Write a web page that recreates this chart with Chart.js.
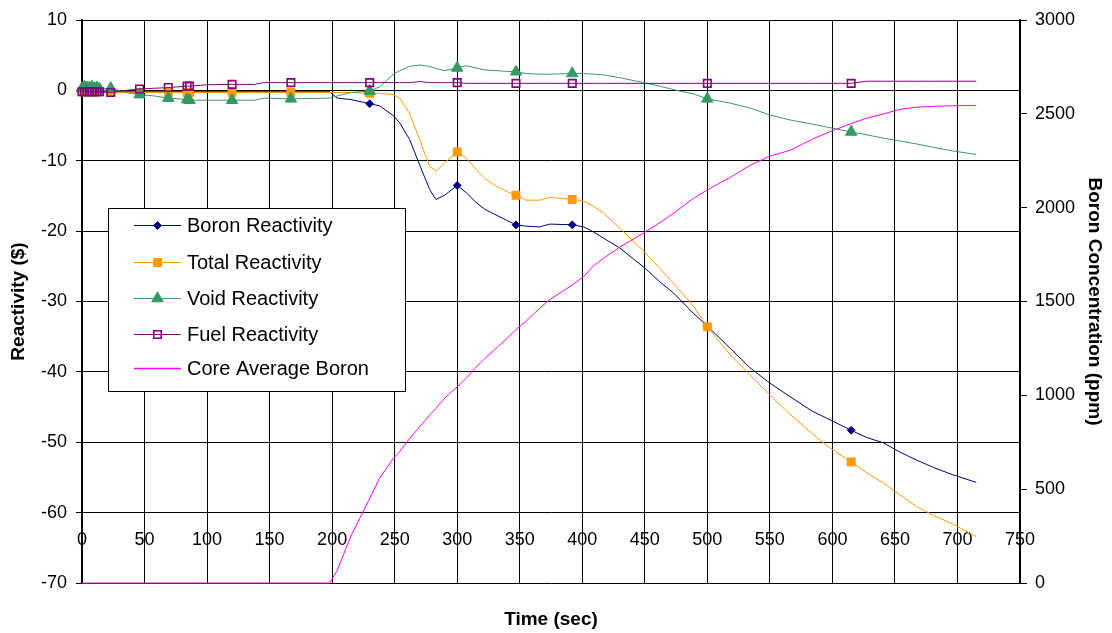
<!DOCTYPE html>
<html>
<head>
<meta charset="utf-8">
<script src="https://cdn.jsdelivr.net/npm/chart.js@4/dist/chart.umd.min.js"></script>
<style>
  html, body { margin: 0; padding: 0; background: #ffffff; }
  #wrap { width: 1112px; height: 633px; position: relative; }
</style>
</head>
<body>
<div id="wrap"><canvas id="chart" width="1112" height="633"></canvas></div>
<script>
// ---------------- DATA ----------------
const time = [0, 2, 4, 6, 8, 10, 12, 14, 23, 35, 46, 58, 69, 84, 86, 100, 120, 138, 145, 167, 198, 204, 215,
  230, 238, 249, 254, 262, 270, 278, 283, 290, 300,
  307, 315, 322, 331, 340, 347, 355, 366, 374, 392,
  401, 409, 417, 430, 449, 462, 473, 489, 500, 518,
  534, 550, 566, 584, 598, 615, 627, 641, 654, 667,
  681, 696, 715];

const boronReactivity = [-0.2, -0.2, -0.2, -0.2, -0.2, -0.2, -0.2, -0.2, -0.2, -0.2, -0.2, -0.2, -0.2, -0.2, -0.2, -0.2, -0.2, -0.2, -0.2, -0.2, -0.2, -1.1, -1.3,
  -1.9, -2.2, -3.6, -4.6, -7.0, -10.6, -14.1, -15.5, -14.9, -13.5,
  -14.5, -15.9, -16.9, -17.7, -18.5, -19.1, -19.3, -19.4, -19.0, -19.1,
  -19.4, -20.1, -21.0, -22.4, -25.1, -27.2, -28.8, -31.7, -33.5, -36.6,
  -39.4, -41.6, -43.5, -45.6, -46.8, -48.3, -49.3, -50.1, -51.4, -52.5,
  -53.6, -54.6, -55.7];

const totalReactivity = [-0.2, -0.2, -0.2, -0.2, -0.2, -0.2, -0.2, -0.2, -0.3, -0.3, -0.3, -0.3, -0.3, -0.3, -0.3, -0.3, -0.3, -0.3, -0.3, -0.3, -0.3, -0.3, -0.3,
  -0.4, -0.4, -0.6, -1.1, -3.3, -7.0, -10.8, -11.5, -10.3, -8.75,
  -9.6, -11.2, -12.5, -13.6, -14.4, -14.9, -15.6, -15.6, -15.2, -15.5,
  -15.7, -16.5, -17.4, -19.6, -22.8, -25.3, -27.4, -30.7, -33.6, -37.5,
  -40.4, -43.3, -46.0, -48.8, -50.8, -52.8, -54.3, -55.8, -57.5, -59.1,
  -60.4, -61.6, -63.4];

const voidReactivity = [0.3, 0.5, 0.4, 0.4, 0.5, 0.3, 0.4, 0.2, 0.3, -0.3, -0.6, -0.8, -1.1, -1.3, -1.4, -1.4, -1.4, -1.4, -1.1, -1.2, -1.1, -0.8, -0.3,
  -0.1, 0.5, 2.3, 2.8, 3.4, 3.6, 3.4, 3.1, 2.8, 3.2,
  3.5, 3.2, 2.9, 2.8, 2.7, 2.65, 2.4, 2.3, 2.3, 2.4,
  2.4, 2.3, 2.2, 1.8, 1.1, 0.6, 0.1, -0.5, -1.2, -1.8,
  -2.5, -3.5, -4.2, -4.8, -5.3, -5.9, -6.3, -6.8, -7.2, -7.6,
  -8.1, -8.6, -9.1];

const fuelReactivity = [-0.2, -0.2, -0.2, -0.2, -0.2, -0.2, -0.2, -0.2, -0.3, 0.0, 0.2, 0.3, 0.4, 0.6, 0.6, 0.8, 0.85, 0.85, 1.1, 1.1, 1.1, 1.1, 1.1,
  1.1, 1.1, 1.1, 1.1, 1.1, 1.25, 1.1, 1.1, 1.1, 1.1,
  1.0, 1.0, 1.0, 1.0, 1.0, 1.0, 1.0, 1.0, 1.0, 1.0,
  1.0, 1.0, 1.0, 1.0, 1.0, 1.0, 1.0, 1.0, 1.0, 1.0,
  1.0, 1.0, 1.0, 1.0, 1.0, 1.0, 1.3, 1.3, 1.3, 1.3,
  1.3, 1.3, 1.3];

const coreAverageBoron = [0, 0, 0, 0, 0, 0, 0, 0, 0, 0, 0, 0, 0, 0, 0, 0, 0, 0, 0, 0, 0, 66, 250,
  450, 560, 664, 700, 770, 833, 895, 930, 985, 1045,
  1090, 1150, 1195, 1250, 1305, 1350, 1395, 1464, 1510, 1588,
  1632, 1690, 1730, 1790, 1865, 1920, 1970, 2050, 2095, 2160,
  2225, 2275, 2305, 2365, 2405, 2448, 2476, 2500, 2524, 2535,
  2540, 2543, 2545];

// times at which the reactivity series show a marker
const markerTimes = [0, 2, 4, 6, 8, 10, 12, 14, 23, 46, 69, 84, 86, 120, 167, 230, 300, 347, 392, 500, 615];

const seriesLabels = ['Boron Reactivity', 'Total Reactivity', 'Void Reactivity', 'Fuel Reactivity', 'Core Average Boron'];

// ---------------- CHART ----------------
const FONT = "'Liberation Sans', Arial, 'DejaVu Sans', sans-serif";

function toPoints(values) {
  return time.map((t, i) => ({ x: t, y: values[i] }));
}
function markerRadius(r) {
  return (c) => (markerTimes.includes(time[c.dataIndex]) ? r : 0);
}
const plainTick = (v) => String(v);

const datasets = [
  { label: seriesLabels[0], data: toPoints(boronReactivity), yAxisID: 'y',
    borderColor: '#000080', backgroundColor: '#000080', pointBackgroundColor: '#000080', pointBorderColor: '#000080',
    borderWidth: 1, pointStyle: 'rectRot', pointRadius: markerRadius(3.9), legendRadius: 3.9, pointBorderWidth: 1, order: 5 },
  { label: seriesLabels[1], data: toPoints(totalReactivity), yAxisID: 'y',
    borderColor: '#FF9900', backgroundColor: '#FF9900', pointBackgroundColor: '#FF9900', pointBorderColor: '#FF9900',
    borderWidth: 1, pointStyle: 'rect', pointRadius: markerRadius(5.6), legendRadius: 5.6, pointBorderWidth: 1, order: 4 },
  { label: seriesLabels[2], data: toPoints(voidReactivity), yAxisID: 'y',
    borderColor: '#339966', backgroundColor: '#339966', pointBackgroundColor: '#339966', pointBorderColor: '#339966',
    borderWidth: 1, pointStyle: 'triangle', pointRadius: markerRadius(6.6), legendRadius: 6.6, pointBorderWidth: 1, order: 3 },
  { label: seriesLabels[3], data: toPoints(fuelReactivity), yAxisID: 'y',
    borderColor: '#800080', backgroundColor: 'rgba(0,0,0,0)', pointBackgroundColor: 'rgba(255,255,255,0)', pointBorderColor: '#800080',
    borderWidth: 1, pointStyle: 'rect', pointRadius: markerRadius(5.3), legendRadius: 5.3, pointBorderWidth: 1.6, order: 2 },
  { label: seriesLabels[4], data: toPoints(coreAverageBoron), yAxisID: 'y1',
    borderColor: '#FF00FF', backgroundColor: '#FF00FF',
    borderWidth: 1, pointRadius: 0, legendRadius: 0, order: 1 }
];

const legendRows = [225, 262, 298, 334, 368];

const boxLegend = {
  id: 'boxLegend',
  afterDraw(chart) {
    const c = chart.ctx;
    c.save();
    c.fillStyle = '#ffffff';
    c.fillRect(108.5, 208.5, 297, 183);
    c.strokeStyle = '#000000';
    c.lineWidth = 1;
    c.strokeRect(108.5, 208.5, 297, 183);
    chart.data.datasets.forEach((ds, i) => {
      const y = legendRows[i];
      c.strokeStyle = ds.borderColor;
      c.lineWidth = i === 4 ? 1.5 : 1.2;
      c.beginPath();
      c.moveTo(134, y + 0.5);
      c.lineTo(181, y + 0.5);
      c.stroke();
      if (ds.legendRadius > 0) {
        c.fillStyle = ds.pointBackgroundColor;
        c.strokeStyle = ds.pointBorderColor;
        c.lineWidth = ds.pointBorderWidth;
        Chart.helpers.drawPoint(c, { pointStyle: ds.pointStyle, radius: ds.legendRadius, borderWidth: ds.pointBorderWidth, rotation: 0 }, 157.5, y + 0.5);
      }
      c.fillStyle = '#000000';
      c.font = '20px ' + FONT;
      c.textBaseline = 'middle';
      c.textAlign = 'left';
      c.fillText(ds.label, 187, y + 1);
    });
    c.restore();
  }
};

new Chart(document.getElementById('chart'), {
  type: 'line',
  data: { datasets },
  plugins: [boxLegend],
  options: {
    responsive: false,
    animation: false,
    devicePixelRatio: 1,
    layout: { padding: { top: 20, left: 0, right: 0, bottom: 0 } },
    elements: { line: { tension: 0 } },
    datasets: { line: { clip: 12 } },
    plugins: {
      legend: { display: false },
      tooltip: { enabled: false },
      title: {
        display: true, text: 'Time (sec)', position: 'bottom', fullSize: false,
        color: '#000000', font: { family: FONT, size: 19, weight: 'bold' },
        padding: { top: 25, bottom: 2.2 }
      }
    },
    scales: {
      x: {
        type: 'linear', min: 0, max: 750,
        position: { y: -62 },
        afterFit(scale) { scale.height = 0; },
        border: { display: false },
        grid: { color: '#000000', lineWidth: 1, drawTicks: false },
        ticks: { stepSize: 50, callback: plainTick, color: '#000000', font: { family: FONT, size: 18 }, padding: 3, maxRotation: 0, autoSkip: false }
      },
      y: {
        type: 'linear', position: 'left', min: -70, max: 10,
        afterFit(scale) { scale.width = 82; },
        border: { display: true, color: '#000000', width: 1.5 },
        grid: { color: '#000000', lineWidth: 1, tickLength: 6, tickColor: '#000000' },
        ticks: { stepSize: 10, callback: plainTick, color: '#000000', font: { family: FONT, size: 18 }, padding: 9 },
        title: { display: true, text: 'Reactivity ($)', color: '#000000', font: { family: FONT, size: 19, weight: 'bold' }, padding: { top: 7, bottom: 0 } }
      },
      y1: {
        type: 'linear', position: 'right', min: 0, max: 3000,
        afterFit(scale) { scale.width = 92; },
        border: { display: true, color: '#000000', width: 1.5 },
        grid: { drawOnChartArea: false, color: '#000000', tickLength: 7, tickColor: '#000000' },
        ticks: { stepSize: 500, callback: plainTick, color: '#000000', font: { family: FONT, size: 18 }, padding: 8 },
        title: { display: true, text: 'Boron Concentration (ppm)', color: '#000000', font: { family: FONT, size: 19, weight: 'bold' }, padding: { top: 6, bottom: 0 } }
      }
    }
  }
});
</script>
</body>
</html>
